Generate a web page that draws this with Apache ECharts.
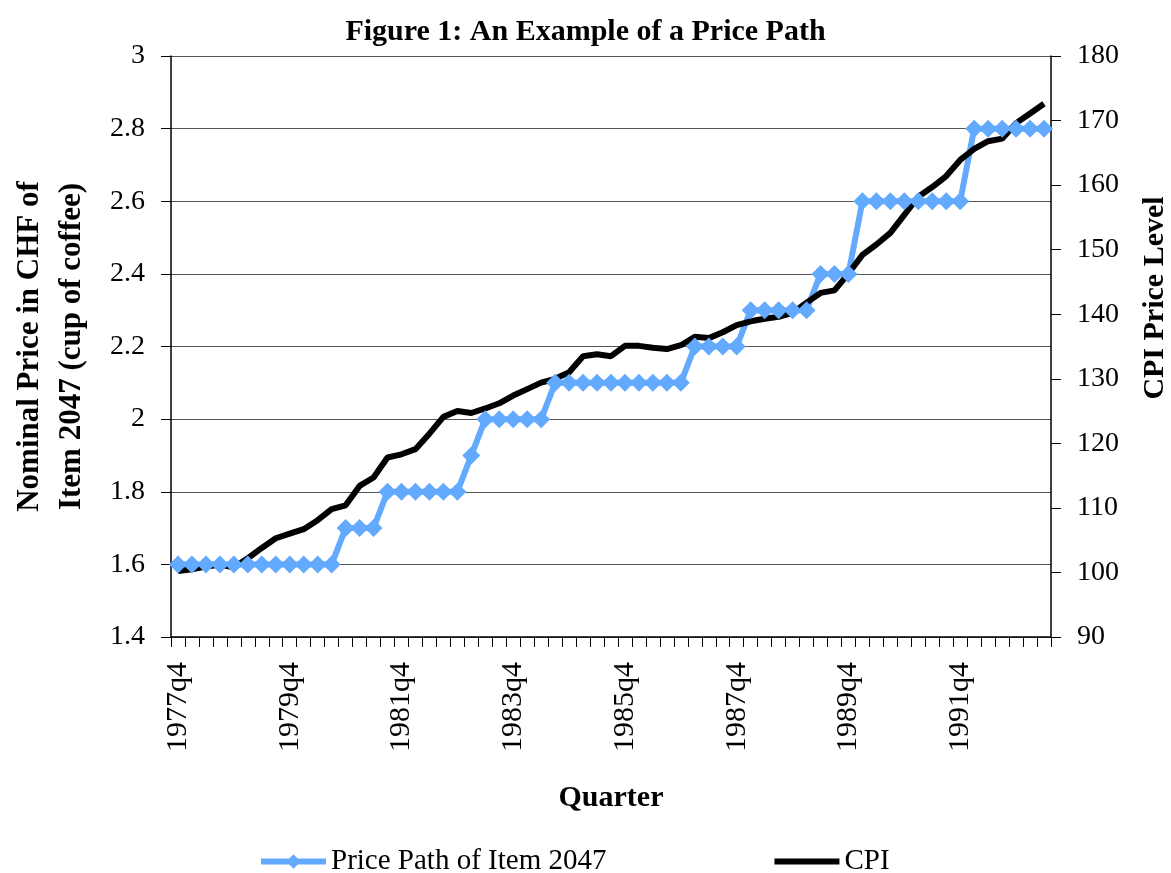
<!DOCTYPE html>
<html>
<head>
<meta charset="utf-8">
<script src="https://cdn.jsdelivr.net/npm/echarts@6/dist/echarts.min.js"></script>
<style>
  html, body { margin: 0; padding: 0; background: #fff; }
  #chart { width: 1171px; height: 873px; }
</style>
</head>
<body>
<div id="chart"></div>
<script>
// quarters 1977q4 .. 1993q2
const quarters = [
  '1977q4',
  '1978q1', '1978q2', '1978q3', '1978q4',
  '1979q1', '1979q2', '1979q3', '1979q4',
  '1980q1', '1980q2', '1980q3', '1980q4',
  '1981q1', '1981q2', '1981q3', '1981q4',
  '1982q1', '1982q2', '1982q3', '1982q4',
  '1983q1', '1983q2', '1983q3', '1983q4',
  '1984q1', '1984q2', '1984q3', '1984q4',
  '1985q1', '1985q2', '1985q3', '1985q4',
  '1986q1', '1986q2', '1986q3', '1986q4',
  '1987q1', '1987q2', '1987q3', '1987q4',
  '1988q1', '1988q2', '1988q3', '1988q4',
  '1989q1', '1989q2', '1989q3', '1989q4',
  '1990q1', '1990q2', '1990q3', '1990q4',
  '1991q1', '1991q2', '1991q3', '1991q4',
  '1992q1', '1992q2', '1992q3', '1992q4',
  '1993q1', '1993q2'
]

// price of item 2047 (CHF)
const itemPrice = [
  1.6, 1.6, 1.6, 1.6, 1.6, 1.6, 1.6, 1.6, 1.6, 1.6, 1.6, 1.6,
  1.7, 1.7, 1.7,
  1.8, 1.8, 1.8, 1.8, 1.8, 1.8,
  1.9,
  2.0, 2.0, 2.0, 2.0, 2.0,
  2.1, 2.1, 2.1, 2.1, 2.1, 2.1, 2.1, 2.1, 2.1, 2.1,
  2.2, 2.2, 2.2, 2.2,
  2.3, 2.3, 2.3, 2.3, 2.3,
  2.4, 2.4, 2.4,
  2.6, 2.6, 2.6, 2.6, 2.6, 2.6, 2.6, 2.6,
  2.8, 2.8, 2.8, 2.8, 2.8, 2.8
]

// CPI level
const cpi = [
  100.2, 100.5, 100.9, 101.2, 100.8, 102.2, 103.8, 105.3, 106.0, 106.7,
  108.1, 109.8, 110.4, 113.4, 114.7, 117.8, 118.3, 119.1, 121.5, 124.1,
  125.0, 124.7, 125.4, 126.2, 127.4, 128.4, 129.4, 130.0, 131.0, 133.5,
  133.8, 133.5, 135.1, 135.1, 134.8, 134.6, 135.2, 136.5, 136.3, 137.2,
  138.3, 138.9, 139.3, 139.6, 140.2, 141.8, 143.3, 143.7, 146.3, 149.2,
  150.8, 152.6, 155.4, 158.2, 159.7, 161.4, 163.9, 165.6, 166.8, 167.2,
  169.6, 171.1, 172.6
]

const serif = '"Liberation Serif", "DejaVu Serif", serif'
const blue = '#63aaff'

const chart = echarts.init(document.getElementById('chart'))

chart.setOption({
  animation: false,
  textStyle: { fontFamily: serif, color: '#000' },
  title: {
    text: 'Figure 1: An Example of a Price Path',
    left: 'center',
    top: 12,
    textStyle: { fontFamily: serif, fontSize: 30, fontWeight: 'bold', color: '#000' }
  },
  grid: { left: 171, right: 120, top: 56, bottom: 236, outerBoundsMode: 'none' },
  legend: {
    left: 253,
    top: 842,
    itemWidth: 65,
    itemHeight: 18,
    itemGap: 165,
    lineStyle: { width: 6 },
    textStyle: { fontFamily: serif, fontSize: 29, color: '#000' },
    data: [
      { name: 'Price Path of Item 2047' },
      { name: 'CPI', itemStyle: { opacity: 0 } }
    ]
  },
  xAxis: {
    type: 'category',
    data: quarters,
    boundaryGap: true,
    name: 'Quarter',
    nameLocation: 'middle',
    nameGap: 146,
    nameTextStyle: { fontFamily: serif, fontSize: 30, fontWeight: 'bold', color: '#000' },
    axisLine: { lineStyle: { color: '#000', width: 1.5 } },
    axisTick: { show: true, interval: 0, length: 10, lineStyle: { color: '#000' } },
    axisLabel: { interval: 7, rotate: 90, margin: 25, fontSize: 30, color: '#000', fontFamily: serif },
    splitLine: { show: false }
  },
  yAxis: [
    {
      type: 'value',
      min: 1.4,
      max: 3,
      interval: 0.2,
      name: 'Nominal Price in CHF of\nItem 2047 (cup of coffee)',
      nameLocation: 'middle',
      nameRotate: 90,
      nameGap: 78,
      nameTextStyle: { fontFamily: serif, fontSize: 31, fontWeight: 'bold', color: '#000', lineHeight: 42 },
      axisLine: { show: true, lineStyle: { color: '#000', width: 1.5 } },
      axisTick: { show: true, length: 10, lineStyle: { color: '#000' } },
      axisLabel: { margin: 26, fontSize: 28, color: '#000', fontFamily: serif },
      splitLine: { show: true, lineStyle: { color: '#555', width: 1 } }
    },
    {
      type: 'value',
      min: 90,
      max: 180,
      interval: 10,
      position: 'right',
      axisLine: { show: true, lineStyle: { color: '#000', width: 1.5 } },
      axisTick: { show: true, length: 10, lineStyle: { color: '#000' } },
      axisLabel: { margin: 26, fontSize: 28, color: '#000', fontFamily: serif },
      splitLine: { show: false }
    }
  ],
  graphic: [
    {
      type: 'text',
      x: 1155,
      y: 298,
      rotation: Math.PI / 2,
      style: {
        text: 'CPI Price Level',
        fill: '#000',
        font: 'bold 30px "Liberation Serif", serif',
        align: 'center',
        verticalAlign: 'middle'
      }
    }
  ],
  series: [
    {
      name: 'Price Path of Item 2047',
      type: 'line',
      yAxisIndex: 0,
      data: itemPrice,
      symbol: 'diamond',
      symbolSize: 18,
      showAllSymbol: true,
      itemStyle: { color: blue },
      lineStyle: { color: blue, width: 6 }
    },
    {
      name: 'CPI',
      type: 'line',
      yAxisIndex: 1,
      data: cpi,
      symbol: 'none',
      itemStyle: { color: '#000' },
      lineStyle: { color: '#000', width: 6 }
    }
  ]
})
</script>
</body>
</html>
